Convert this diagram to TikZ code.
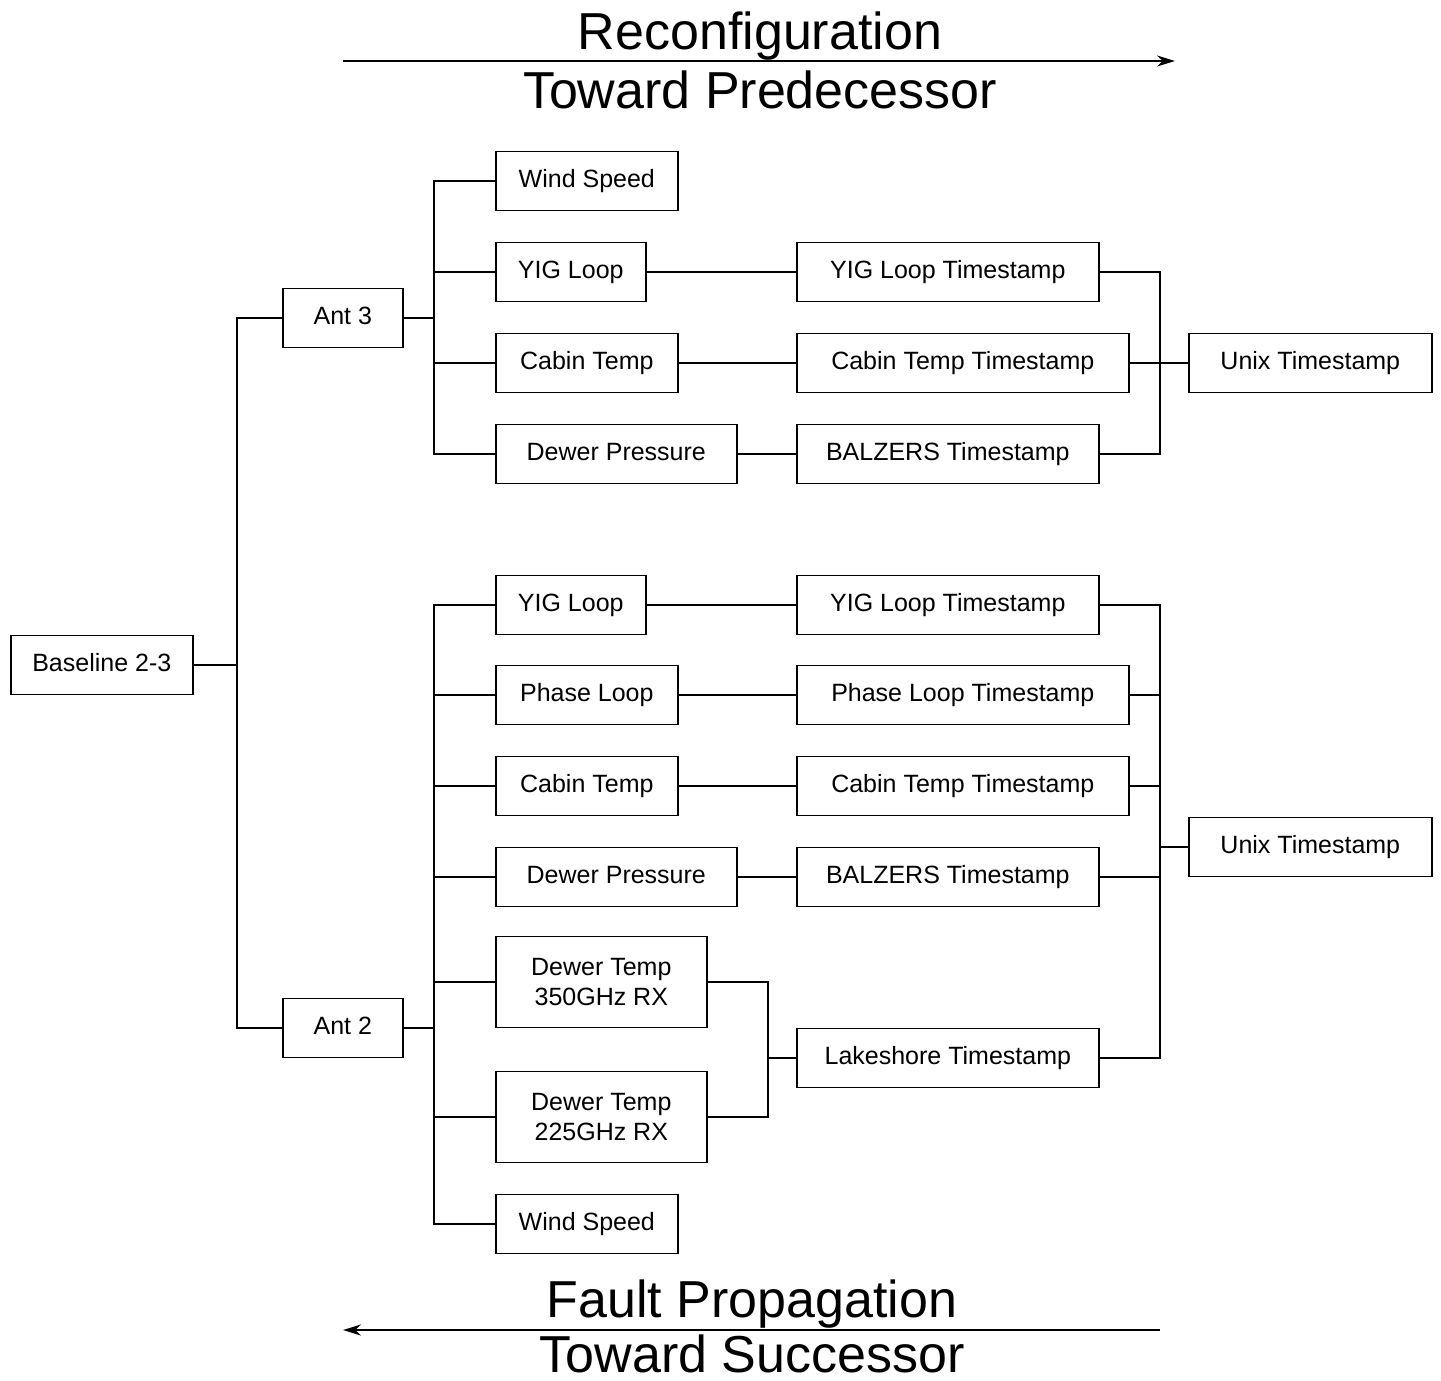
\documentclass[tikz,border=0pt]{standalone}
\usepackage{fontspec}
\setmainfont{Liberation Sans}
\usetikzlibrary{arrows.meta,positioning}

\tikzset{
  blk/.style={draw,line width=1.6pt,anchor=west,minimum height=59pt,
    text height=18pt,text depth=5pt,font=\fontsize{25}{30}\selectfont},
  blk2/.style={blk,align=center,minimum height=91pt,text height=,text depth=},
  ttl/.style={anchor=base,font=\fontsize{52}{60}\selectfont},
  wire/.style={line width=1.6pt}
}

\begin{document}
\begin{tikzpicture}[x=1pt,y=-1pt]
\useasboundingbox (0,0) rectangle (1441,1381);

% titles
\node[ttl] (reconf) at (760,50) {Reconfiguration};
\node[ttl] (pred) at (760,108) {Toward Predecessor};
\node[ttl] (fault) at (752,1317) {Fault Propagation};
\node[ttl] (succ) at (752,1372) {Toward Successor};
\coordinate (r1) at (343,61);
\coordinate (r2) at (1175,61);
\coordinate (f1) at (1160,1330);
\coordinate (f2) at (343,1330);
\draw[wire,-{Stealth[length=18pt,width=11pt]}] (r1) -- (r2);
\draw[wire,-{Stealth[length=18pt,width=11pt]}] (f1) -- (f2);

% tree
\node[blk,minimum width=182pt] (base) at (10,665) {Baseline 2-3};
\node[blk,minimum width=120pt] (ant3) at (282,318) {Ant 3};
\node[blk,minimum width=120pt] (ant2) at (282,1028) {Ant 2};

\node[blk,minimum width=182pt] (ws3) at (495,181) {Wind Speed};
\node[blk,minimum width=150pt] (yig3) at (495,272) {YIG Loop};
\node[blk,minimum width=182pt] (cab3) at (495,363) {Cabin Temp};
\node[blk,minimum width=241pt] (dp3) at (495,454) {Dewer Pressure};
\node[blk,minimum width=302pt] (yigt3) at (796,272) {YIG Loop Timestamp};
\node[blk,minimum width=332pt] (cabt3) at (796,363) {Cabin Temp Timestamp};
\node[blk,minimum width=302pt] (balt3) at (796,454) {BALZERS Timestamp};
\node[blk,minimum width=243pt] (unix3) at (1188,363) {Unix Timestamp};

\node[blk,minimum width=150pt] (yig2) at (495,605) {YIG Loop};
\node[blk,minimum width=182pt] (ph2) at (495,695) {Phase Loop};
\node[blk,minimum width=182pt] (cab2) at (495,786) {Cabin Temp};
\node[blk,minimum width=241pt] (dp2) at (495,877) {Dewer Pressure};
\node[blk2,minimum width=211pt] (dt350) at (495,982) {Dewer Temp\\350GHz RX};
\node[blk2,minimum width=211pt] (dt225) at (495,1117) {Dewer Temp\\225GHz RX};
\node[blk,minimum width=182pt] (ws2) at (495,1224) {Wind Speed};
\node[blk,minimum width=302pt] (yigt2) at (796,605) {YIG Loop Timestamp};
\node[blk,minimum width=332pt] (pht2) at (796,695) {Phase Loop Timestamp};
\node[blk,minimum width=332pt] (cabt2) at (796,786) {Cabin Temp Timestamp};
\node[blk,minimum width=302pt] (balt2) at (796,877) {BALZERS Timestamp};
\node[blk,minimum width=302pt] (lake2) at (796,1058) {Lakeshore Timestamp};
\node[blk,minimum width=243pt] (unix2) at (1188,847) {Unix Timestamp};

\coordinate (b1) at (237,0);
\coordinate (b2) at (434,0);
\coordinate (b3) at (768,0);
\coordinate (b4) at (1160,0);

\draw[wire] (base.east) -- (base.east -| b1);
\draw[wire] (ant3.west) -| (base.east -| b1) |- (ant2.west);
\draw[wire] (ant3.east) -- (ant3.east -| b2);
\draw[wire] (ant2.east) -- (ant2.east -| b2);
\foreach \n in {ws3,yig3,cab3,dp3}
  \draw[wire] (\n.west) -| (ant3.east -| b2);
\foreach \n in {yig2,ph2,cab2,dp2,dt350,dt225,ws2}
  \draw[wire] (\n.west) -| (ant2.east -| b2);

\draw[wire] (yig3) -- (yigt3);
\draw[wire] (cab3) -- (cabt3);
\draw[wire] (dp3) -- (balt3);
\draw[wire] (yig2) -- (yigt2);
\draw[wire] (ph2) -- (pht2);
\draw[wire] (cab2) -- (cabt2);
\draw[wire] (dp2) -- (balt2);
\draw[wire] (lake2.west) -- (lake2.west -| b3);
\foreach \n in {dt350,dt225}
  \draw[wire] (\n.east) -| (lake2.west -| b3);

\draw[wire] (unix3.west) -- (unix3.west -| b4);
\foreach \n in {yigt3,cabt3,balt3}
  \draw[wire] (\n.east) -| (unix3.west -| b4);
\draw[wire] (unix2.west) -- (unix2.west -| b4);
\foreach \n in {yigt2,pht2,cabt2,balt2,lake2}
  \draw[wire] (\n.east) -| (unix2.west -| b4);
\end{tikzpicture}
\end{document}
